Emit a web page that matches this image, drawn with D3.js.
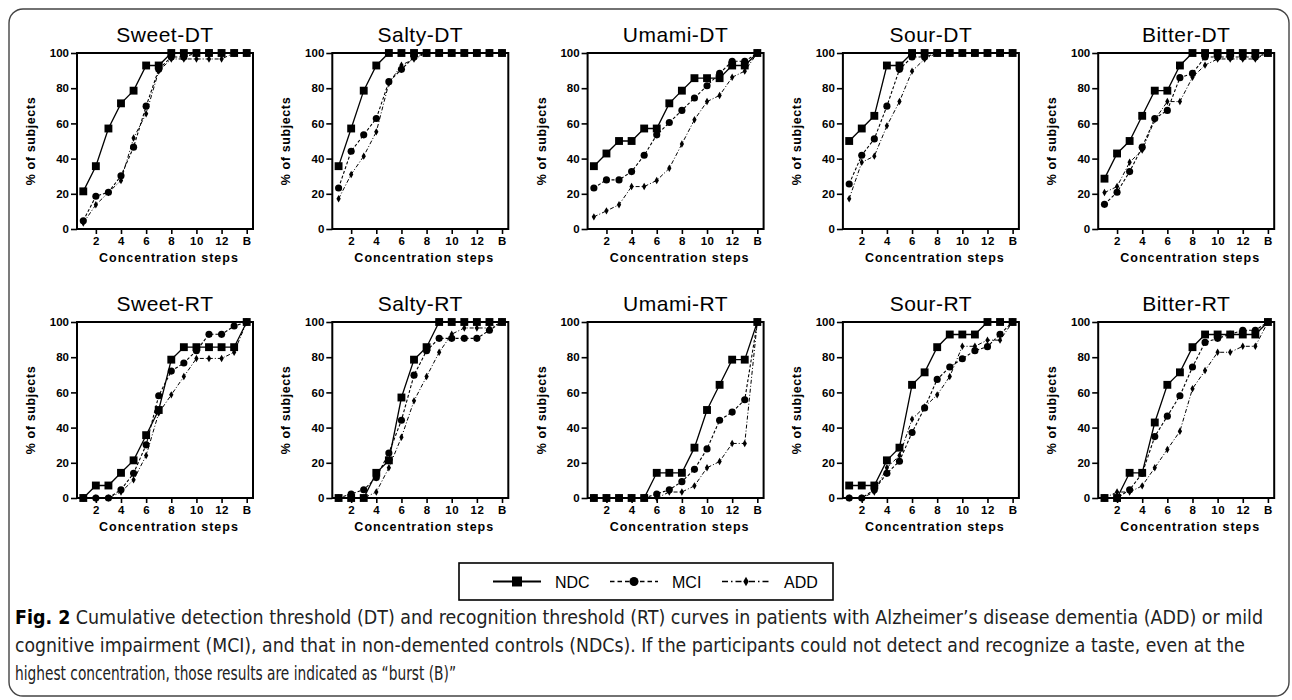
<!DOCTYPE html>
<html><head><meta charset="utf-8">
<script src="https://cdn.jsdelivr.net/npm/d3@7"></script>
<style>body{margin:0;background:#fff}svg{display:block}</style>
</head><body>
<svg id="c" width="1292" height="700"></svg>
<script>
// ---- data ----
const steps = [1,2,3,4,5,6,7,8,9,10,11,12,13,14];
const xTickValues = [2,4,6,8,10,12,14];
const xTickLabels = ["2","4","6","8","10","12","B"];
const yTickValues = [0,20,40,60,80,100];
const groups = ["NDC","MCI","ADD"];
const panelTitles = ["Sweet-DT","Salty-DT","Umami-DT","Sour-DT","Bitter-DT","Sweet-RT","Salty-RT","Umami-RT","Sour-RT","Bitter-RT"];

const sweetDT_NDC = [21.4,35.7,57.1,71.4,78.6,92.9,92.9,100,100,100,100,100,100,100];
const sweetDT_MCI = [4.7,18.6,20.9,30.2,46.5,69.8,90.7,97.7,97.7,100,100,100,100,100];
const sweetDT_ADD = [3.4,13.8,20.7,27.6,51.7,65.5,89.7,96.6,96.6,96.6,96.6,96.6,100,100];

const saltyDT_NDC = [35.7,57.1,78.6,92.9,100,100,100,100,100,100,100,100,100,100];
const saltyDT_MCI = [23.3,44.2,53.5,62.8,83.7,90.7,97.7,100,100,100,100,100,100,100];
const saltyDT_ADD = [17.2,31.0,41.4,55.2,82.8,93.1,96.6,100,100,100,100,100,100,100];

const umamiDT_NDC = [35.7,42.9,50,50,57.1,57.1,71.4,78.6,85.7,85.7,85.7,92.9,92.9,100];
const umamiDT_MCI = [23.3,27.9,27.9,32.6,41.9,53.5,60.5,67.4,74.4,81.4,88.4,95.3,95.3,100];
const umamiDT_ADD = [6.9,10.3,13.8,24.1,24.1,27.6,34.5,48.3,62.1,72.4,75.9,86.2,89.7,100];

const sourDT_NDC = [50,57.1,64.3,92.9,92.9,100,100,100,100,100,100,100,100,100];
const sourDT_MCI = [25.6,41.9,51.2,69.8,90.7,97.7,97.7,100,100,100,100,100,100,100];
const sourDT_ADD = [17.2,37.9,41.4,58.6,72.4,89.7,96.6,100,100,100,100,100,100,100];

const bitterDT_NDC = [28.6,42.9,50,64.3,78.6,78.6,92.9,100,100,100,100,100,100,100];
const bitterDT_MCI = [14.0,20.9,32.6,46.5,62.8,67.4,86.0,88.4,97.7,97.7,97.7,97.7,97.7,100];
const bitterDT_ADD = [20.7,24.1,37.9,44.8,62.1,72.4,72.4,86.2,93.1,96.6,96.6,96.6,96.6,100];

const sweetRT_NDC = [0,7.1,7.1,14.3,21.4,35.7,50,78.6,85.7,85.7,85.7,85.7,85.7,100];
const sweetRT_MCI = [0,0,0,4.7,14.0,30.2,58.1,72.1,76.7,83.7,93.0,93.0,97.7,100];
const sweetRT_ADD = [0,0,0,3.4,10.3,24.1,48.3,58.6,69.0,79.3,79.3,79.3,82.8,100];

const saltyRT_NDC = [0,0,0,14.3,21.4,57.1,78.6,85.7,100,100,100,100,100,100];
const saltyRT_MCI = [0,2.3,4.7,11.6,25.6,44.2,69.8,83.7,90.7,90.7,90.7,90.7,95.3,100];
const saltyRT_ADD = [0,0,0,3.4,17.2,34.5,55.2,69.0,82.8,93.1,96.6,96.6,96.6,100];

const umamiRT_NDC = [0,0,0,0,0,14.3,14.3,14.3,28.6,50,64.3,78.6,78.6,100];
const umamiRT_MCI = [0,0,0,0,0,2.3,4.7,9.3,16.3,27.9,44.2,48.8,55.8,100];
const umamiRT_ADD = [0,0,0,0,0,0,3.4,3.4,6.9,17.2,20.7,31.0,31.0,100];

const sourRT_NDC = [7.1,7.1,7.1,21.4,28.6,64.3,71.4,85.7,92.9,92.9,92.9,100,100,100];
const sourRT_MCI = [0,0,4.7,14.0,20.9,37.2,51.2,67.4,74.4,79.1,83.7,86.0,93.0,100];
const sourRT_ADD = [0,0,3.4,17.2,24.1,44.8,51.7,58.6,69.0,86.2,86.2,89.7,89.7,100];

const bitterRT_NDC = [0,0,14.3,14.3,42.9,64.3,71.4,85.7,92.9,92.9,92.9,92.9,92.9,100];
const bitterRT_MCI = [0,0,4.7,14.0,34.9,46.5,58.1,74.4,88.4,90.7,93.0,95.3,95.3,100];
const bitterRT_ADD = [0,3.4,3.4,6.9,17.2,27.6,37.9,62.1,72.4,82.8,82.8,86.2,86.2,100];

const panelSeries = [
  [sweetDT_NDC, sweetDT_MCI, sweetDT_ADD],
  [saltyDT_NDC, saltyDT_MCI, saltyDT_ADD],
  [umamiDT_NDC, umamiDT_MCI, umamiDT_ADD],
  [sourDT_NDC, sourDT_MCI, sourDT_ADD],
  [bitterDT_NDC, bitterDT_MCI, bitterDT_ADD],
  [sweetRT_NDC, sweetRT_MCI, sweetRT_ADD],
  [saltyRT_NDC, saltyRT_MCI, saltyRT_ADD],
  [umamiRT_NDC, umamiRT_MCI, umamiRT_ADD],
  [sourRT_NDC, sourRT_MCI, sourRT_ADD],
  [bitterRT_NDC, bitterRT_MCI, bitterRT_ADD]
];

const captionBold = "Fig. 2";
const captionLines = [
  " Cumulative detection threshold (DT) and recognition threshold (RT) curves in patients with Alzheimer\u2019s disease dementia (ADD) or mild",
  "cognitive impairment (MCI), and that in non-demented controls (NDCs). If the participants could not detect and recognize a taste, even at the",
  "highest concentration, those results are indicated as \u201cburst (B)\u201d"
];

// ---- styles ----
const FONT = "'Liberation Sans', Arial, Helvetica, sans-serif";
const styles = {
  NDC: {dash: null, width: 1.3, symbol: d3.symbolSquare, size: 62},
  MCI: {dash: "3,2", width: 1.1, symbol: d3.symbolCircle, size: 40},
  ADD: {dash: "4,2,1,2", width: 1.0, symbol: d3.symbolDiamond, size: 16}
};

const svg = d3.select("#c");

// outer rounded border
svg.append("rect").attr("x", 9).attr("y", 9).attr("width", 1280).attr("height", 687)
  .attr("rx", 14).attr("fill", "none").attr("stroke", "#444").attr("stroke-width", 1.4);

const W = 176, H = 176;
const colX0 = 77, colStep = 255.3;
const rowY = [53, 322];

panelTitles.forEach((title, i) => {
  const col = i % 5, row = Math.floor(i / 5);
  const g = svg.append("g").attr("transform", `translate(${colX0 + col*colStep},${rowY[row]})`);
  const x = d3.scaleLinear().domain([0.5, 14.5]).range([0, W]);
  const y = d3.scaleLinear().domain([0, 100]).range([H, 0]);

  // title
  g.append("text").attr("x", W/2).attr("y", -11).attr("text-anchor", "middle")
    .attr("font-family", FONT).attr("font-size", 21).attr("letter-spacing", 0.5)
    .attr("font-weight", "normal").text(title);

  // y axis
  const ya = g.append("g").call(d3.axisLeft(y).tickValues(yTickValues).tickSize(6).tickPadding(2).tickFormat(d3.format("d")));
  // x axis
  const xa = g.append("g").attr("transform", `translate(0,${H})`)
    .call(d3.axisBottom(x).tickValues(xTickValues).tickSize(5).tickPadding(3)
      .tickFormat((d, k) => xTickLabels[k]));
  [ya, xa].forEach(a => {
    a.select(".domain").remove();
    a.selectAll("line").attr("stroke", "#000").attr("stroke-width", 1.6);
    a.selectAll("text").attr("font-family", FONT).attr("font-size", 11.5)
      .attr("font-weight", "bold").attr("fill", "#000");
  });
  xa.selectAll("text").attr("letter-spacing", 0.5);

  // frame
  g.append("rect").attr("x", 0).attr("y", 0).attr("width", W).attr("height", H)
    .attr("fill", "none").attr("stroke", "#000").attr("stroke-width", 2);

  // y label
  g.append("text").attr("transform", `translate(-42,${H/2}) rotate(-90)`)
    .attr("text-anchor", "middle").attr("font-family", FONT).attr("font-size", 12.5)
    .attr("font-weight", "bold").attr("letter-spacing", 0.6).text("% of subjects");
  // x label
  g.append("text").attr("x", W/2 + 4).attr("y", H + 33).attr("text-anchor", "middle")
    .attr("font-family", FONT).attr("font-size", 12.5).attr("font-weight", "bold")
    .attr("letter-spacing", 1).text("Concentration steps");

  // series (draw ADD, MCI, then NDC on top)
  [2, 1, 0].forEach(si => {
    const name = groups[si];
    const st = styles[name];
    const vals = panelSeries[i][si];
    const pts = steps.map((s, k) => [s, vals[k]]);
    g.append("path").datum(pts)
      .attr("d", d3.line().x(d => x(d[0])).y(d => y(d[1])))
      .attr("fill", "none").attr("stroke", "#000").attr("stroke-width", st.width)
      .attr("stroke-dasharray", st.dash);
    g.selectAll(null).data(pts).enter().append("path")
      .attr("transform", d => `translate(${x(d[0])},${y(d[1])})`)
      .attr("d", d3.symbol().type(st.symbol).size(st.size))
      .attr("fill", "#000");
  });
});

// legend
const lg = svg.append("g");
lg.append("rect").attr("x", 459).attr("y", 563).attr("width", 374).attr("height", 37)
  .attr("fill", "#fff").attr("stroke", "#000").attr("stroke-width", 1.6);
const legendX = [493, 610, 722];
groups.forEach((name, k) => {
  const st = styles[name];
  const lx = legendX[k], ly = 581.5;
  lg.append("line").attr("x1", lx).attr("x2", lx + 48).attr("y1", ly).attr("y2", ly)
    .attr("stroke", "#000").attr("stroke-width", st.width + 0.6).attr("stroke-dasharray", st.dash ? st.dash.split(",").map(v => v*1.5).join(",") : null);
  lg.append("path").attr("transform", `translate(${lx + 24},${ly})`)
    .attr("d", d3.symbol().type(st.symbol).size(st.size * 1.6)).attr("fill", "#000");
  lg.append("text").attr("x", lx + 62).attr("y", ly + 6).attr("font-family", FONT)
    .attr("font-size", 16).text(name);
});

// caption
const CAPFONT = "'Liberation Sans Narrow', 'DejaVu Sans Condensed', 'Open Sans', sans-serif";
const capY = [624, 652, 680];
const capLen = [1248, 1230, 441];
captionLines.forEach((line, k) => {
  const t = svg.append("text").attr("x", 15).attr("y", capY[k])
    .attr("font-family", CAPFONT).attr("font-size", 19).attr("fill", "#222")
    .attr("textLength", capLen[k]).attr("lengthAdjust", "spacingAndGlyphs");
  if (k === 0) t.append("tspan").attr("font-weight", "bold").attr("fill", "#000").text(captionBold);
  t.append("tspan").text(line);
});
</script>
</body></html>
